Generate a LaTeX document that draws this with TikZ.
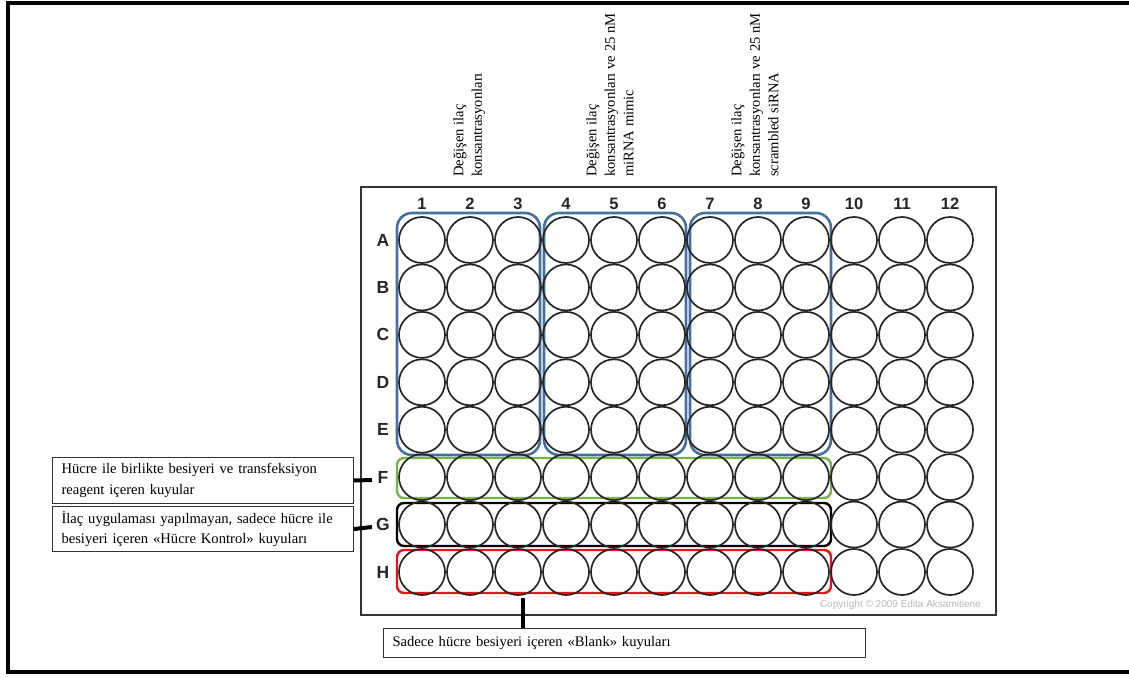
\documentclass[tikz,border=0pt]{standalone}
\usepackage{fontspec}
\setmainfont{Liberation Serif}
\newfontfamily\arialf{Liberation Sans}
\definecolor{grpblue}{RGB}{70,112,158}
\definecolor{grpgreen}{RGB}{120,178,74}
\definecolor{grpred}{RGB}{228,22,28}
\begin{document}
\begin{tikzpicture}[x=1pt,y=-1pt,
  well/.style={circle,draw=black!85,line width=1.7pt,minimum size=46pt,inner sep=0pt},
  colnum/.style={font=\arialf\bfseries\fontsize{16.5}{18}\selectfont,text=black!85,inner sep=0pt},
  rowlet/.style={font=\arialf\bfseries\fontsize{17.5}{19}\selectfont,text=black!85,inner sep=0pt},
  toplabel/.style={rotate=90,anchor=north west,align=left,inner sep=0pt,font=\fontsize{14.6}{18.5}\selectfont},
  labelbox/.style={draw=black!80,line width=1pt,anchor=north west,align=left,inner xsep=9pt,inner ysep=0pt,font=\fontsize{14.6}{20.5}\selectfont},
  group/.style={rounded corners=15pt,line width=2.6pt},
  rowgroup/.style={rounded corners=7pt,line width=2.4pt},
  tick/.style={line width=4pt}]
\useasboundingbox (0,0) rectangle (1129,677);
\clip (0,0) rectangle (1129,677);
% outer frame
\draw[line width=4pt] (1140,3) -- (8,3) -- (8,672) -- (1140,672);
% vertical labels
\node[toplabel] (t1) at (453,177) {Değişen ilaç\\konsantrasyonları};
\node[toplabel] (t2) at (586,177) {Değişen ilaç\\konsantrasyonları ve 25 nM\\miRNA mimic};
\node[toplabel] (t3) at (731,177) {Değişen ilaç\\konsantrasyonları ve 25 nM\\scrambled siRNA};
% plate
\node[draw=black!80,line width=1.6pt,anchor=north west,minimum width=635pt,minimum height=428pt,inner sep=0pt] (plate) at (360,186) {};
% groups
\draw[group,draw=grpblue] (397,213) rectangle (540,455);
\draw[group,draw=grpblue] (544,213) rectangle (686,455);
\draw[group,draw=grpblue] (690,213) rectangle (831,455);
\draw[rowgroup,draw=grpgreen] (397,458) rectangle (831,498);
\draw[rowgroup,draw=black] (397,503) rectangle (831,546);
\draw[rowgroup,draw=grpred] (397,550) rectangle (831,593);
% wells
\foreach \c in {1,...,12}{
  \node[colnum] (n\c) at ({422+48*(\c-1)},204) {\c};
}
\foreach \r/\L [count=\i from 0] in {1/A,2/B,3/C,4/D,5/E,6/F,7/G,8/H}{
  \node[rowlet] (l\L) at (383,{240+47.43*\i}) {\L};
  \foreach \c in {1,...,12}{
    \node[well] (w\L\c) at ({422+48*(\c-1)},{240+47.43*\i}) {};
  }
}
% copyright
\node[anchor=east,inner sep=0pt,font=\arialf\fontsize{10}{12}\selectfont,text=black!28] (copy) at (981,605) {Copyright © 2009 Edita Aksamitiene};
% label boxes
\node[labelbox,minimum width=301pt,minimum height=46pt,text width=283pt] (bF) at (52,457) {Hücre ile birlikte besiyeri ve transfeksiyon\\reagent içeren kuyular};
\node[labelbox,minimum width=301pt,minimum height=45pt,text width=283pt] (bG) at (52,506) {İlaç uygulaması yapılmayan, sadece hücre ile\\besiyeri içeren «Hücre Kontrol» kuyuları};
\node[labelbox,minimum width=482pt,minimum height=29pt,text width=464pt] (bH) at (383,628) {Sadece hücre besiyeri içeren «Blank» kuyuları};
% connectors
\coordinate (cF) at (372,480);
\coordinate (cG) at (372,527);
\coordinate (cH) at (523,598);
\draw[tick] (bF.east) -- (cF);
\draw[tick] (bG.east) -- (cG);
\draw[tick] (bH.north -| cH) -- (cH);
\end{tikzpicture}
\end{document}
